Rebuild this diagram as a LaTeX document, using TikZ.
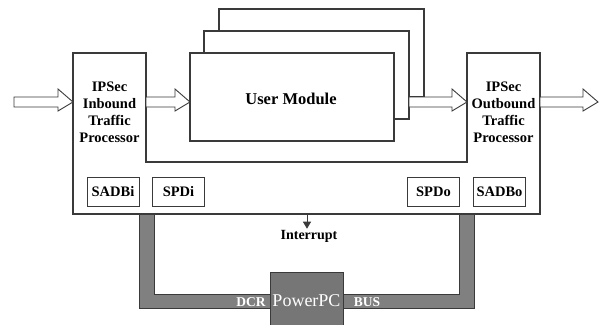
\documentclass[tikz,border=0pt]{standalone}
\usepackage{fontspec}
\setmainfont{Liberation Serif}
\usetikzlibrary{arrows.meta}
\definecolor{edge}{HTML}{3A3A3A}
\definecolor{bus}{HTML}{808080}
\tikzset{
  frame/.style={draw=edge, line width=1.1pt, fill=white},
  blockarr/.style={draw=edge, line width=0.9pt, fill=white},
  smallbox/.style={draw=edge, line width=0.9pt, fill=white, minimum width=52pt, minimum height=29pt, inner sep=0pt, font=\bfseries\fontsize{14.5}{16}\selectfont},
  proclabel/.style={align=center, font=\bfseries\fontsize{14.5}{17}\selectfont},
  buslabel/.style={text=white, font=\bfseries\fontsize{13.5}{15}\selectfont, inner sep=0pt}
}
\newcommand\blkarrow[2]{%
  \draw[blockarr] (#1,97) -- ({#2-15},97) -- ({#2-15},89) -- (#2,102) -- ({#2-15},111) -- ({#2-15},107) -- (#1,107) -- cycle;}
\begin{document}
\begin{tikzpicture}[x=1pt,y=-1pt]
\useasboundingbox (0,0) rectangle (605,324);
% bus
\draw[draw=edge, line width=0.9pt, fill=bus] (139,214) -- (139,308) -- (474,308) -- (474,214) -- (459,214) -- (459,294) -- (154,294) -- (154,214) -- cycle;
% PowerPC
\fill[bus!92!black] (270,272) rectangle (343,326);
\draw[edge, line width=0.9pt] (270,326) -- (270,272) -- (343,272) -- (343,326);
\node[text=white, font=\fontsize{18}{19}\selectfont, inner sep=0pt] (ppc) at (306.5,301) {PowerPC};
\node[buslabel] (dcr) at (251,302) {DCR};
\node[buslabel] (busl) at (367,302) {BUS};
% main frame
\draw[frame] (73,53) -- (146,53) -- (146,162) -- (467,162) -- (467,53) -- (540,53) -- (540,214) -- (73,214) -- cycle;
% user module stack
\draw[frame] (219,9) rectangle (424,97);
\draw[frame] (204,31) rectangle (409,119);
\draw[frame] (190,53) rectangle (394,141);
\node[font=\bfseries\fontsize{16.5}{18}\selectfont] (um) at (291,99) {User Module};
% processors
\node[proclabel] (inb) at (109.5,112) {IPSec\\Inbound\\Traffic\\Processor};
\node[proclabel] (outb) at (503.5,112) {IPSec\\Outbound\\Traffic\\Processor};
% small boxes
\node[smallbox] (sadbi) at (113,191.5) {SADBi};
\node[smallbox] (spdi) at (178.5,191.5) {SPDi};
\node[smallbox] (spdo) at (433.5,191.5) {SPDo};
\node[smallbox] (sadbo) at (499.5,191.5) {SADBo};
% arrows
\blkarrow{14}{73}
\blkarrow{146}{190}
\blkarrow{409}{467}
\blkarrow{540}{598}
% interrupt
\coordinate (intsrc) at (307,214);
\node[font=\bfseries\fontsize{14}{16}\selectfont, inner sep=1pt] (intr) at (309,236) {Interrupt};
\draw[edge, line width=0.9pt, -{Triangle[width=8pt,length=7pt]}] (intsrc) -- (intr.north -| intsrc);
\end{tikzpicture}
\end{document}
